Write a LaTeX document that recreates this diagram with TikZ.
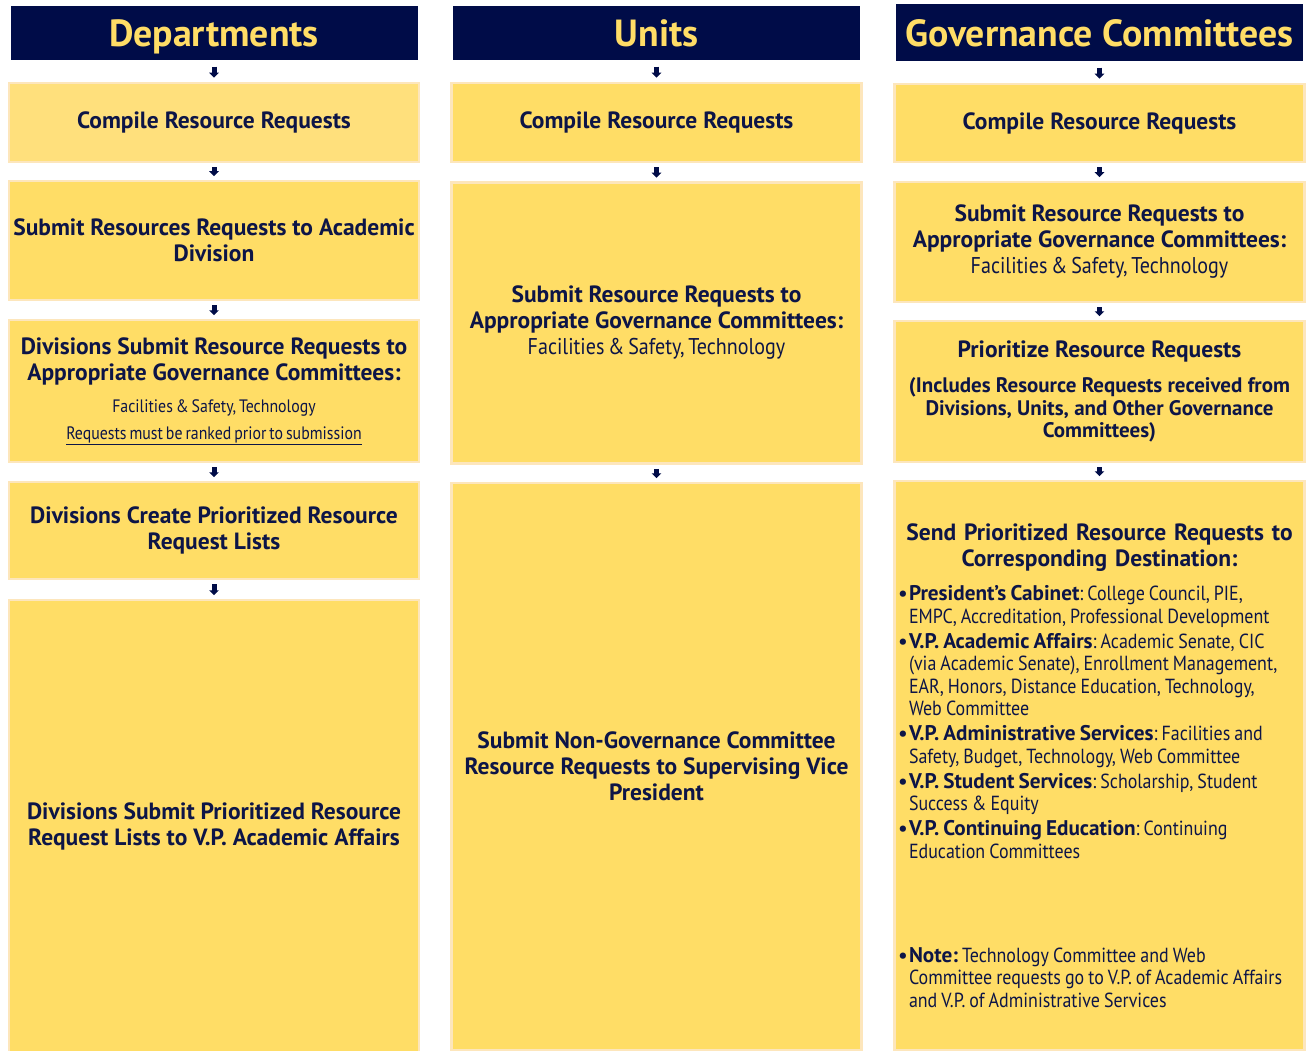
\documentclass[tikz,border=0pt]{standalone}
\usepackage{fontspec}
\setmainfont{PT Sans}
\newfontfamily\condfont[FakeStretch=0.88,WordSpace=0.7]{PT Sans}
\usetikzlibrary{arrows.meta}

\definecolor{navy}{HTML}{000C48}
\definecolor{boxfill}{HTML}{FFDD66}
\definecolor{boxpale}{HTML}{FFE07C}
\definecolor{boxline}{HTML}{FDE6BC}
\definecolor{ink}{HTML}{0D1547}

\newcommand{\headfont}{\fontsize{37.8}{40}\selectfont\bfseries}
\newcommand{\stepfont}{\fontsize{23.5}{26}\selectfont\bfseries}
\newcommand{\notefont}{\condfont\fontsize{22.8}{26}\selectfont\mdseries}
\newcommand{\smallnote}{\condfont\fontsize{18}{20}\selectfont\mdseries}
\newcommand{\listfont}{\condfont\fontsize{20.4}{22.5}\selectfont\mdseries}
\newcommand{\dest}[2]{\par\vspace{2.5pt}\noindent
  \llap{{\rmfamily\bfseries\textbullet}\hspace{1.5pt}}{\rmfamily\bfseries\fontsize{21.2}{22.5}\selectfont #1}#2}

\tikzstyle{header}=[fill=navy,text=boxfill,font=\headfont,minimum width=407pt,
  minimum height=54pt,inner sep=0pt,text height=31pt,text depth=3pt]
\tikzstyle{stepbox}=[draw=boxline,line width=2.5pt,fill=boxfill,text=ink,
  minimum width=410pt,align=center,inner sep=2pt,font=\stepfont]
\tikzstyle{flow}=[draw=navy,line width=5pt,-{Triangle[width=9.5pt,length=5pt]},
  shorten <=4pt,shorten >=3.5pt]

\begin{document}
\begin{tikzpicture}[x=1pt,y=-1pt]
    \useasboundingbox (0,0) rectangle (1315,1051);
    % column headers
    \node[header] (h1) at (214,33) {Departments};
    \node[header] (h2) at (656.5,33) {Units};
    \node[header,minimum height=57pt] (h3) at (1099.5,32.5) {Governance Committees};

    % Departments
    \node[stepbox,fill=boxpale,minimum height=79pt] (d1) at (214,122.5) {Compile Resource Requests};
    \node[stepbox,minimum height=119pt] (d2) at (214,240.5)
        {Submit Resources Requests to Academic\\Division};
    \node[stepbox,minimum height=142pt] (d3) at (214,391)
        {Divisions Submit Resource Requests to\\Appropriate Governance Committees:\\[6pt]
         {\smallnote Facilities \& Safety, Technology}\\[1pt]
         {\smallnote\underline{Requests must be ranked prior to submission}}};
    \node[stepbox,minimum height=97pt] (d4) at (214,530.5)
        {Divisions Create Prioritized Resource\\Request Lists};
    \node[stepbox,minimum height=452pt] (d5) at (214,826)
        {Divisions Submit Prioritized Resource\\Request Lists to V.P. Academic Affairs};

    % Units
    \node[stepbox,minimum height=79pt] (u1) at (656.5,122.5) {Compile Resource Requests};
    \node[stepbox,minimum height=281pt] (u2) at (656.5,323)
        {Submit Resource Requests to\\Appropriate Governance Committees:\\
         {\notefont Facilities \& Safety, Technology}};
    \node[stepbox,minimum height=567pt] (u3) at (656.5,766.5)
        {Submit Non-Governance Committee\\Resource Requests to Supervising Vice\\President};

    % Governance Committees
    \node[stepbox,minimum height=78pt] (g1) at (1099.5,123) {Compile Resource Requests};
    \node[stepbox,minimum height=120pt] (g2) at (1099.5,242)
        {Submit Resource Requests to\\Appropriate Governance Committees:\\
         {\notefont Facilities \& Safety, Technology}};
    \node[stepbox,minimum height=141pt] (g3) at (1099.5,391.5)
        {Prioritize Resource Requests\\[9pt]
         {\fontsize{21}{22.5}\selectfont (Includes Resource Requests received from}\\[-3.5pt]
         {\fontsize{21}{22.5}\selectfont Divisions, Units, and Other Governance}\\[-3.5pt]
         {\fontsize{21}{22.5}\selectfont Committees)}};
    \node[stepbox,minimum height=569pt,text width=410pt,inner sep=0pt,align=left] (g4) at (1099.5,765.5)
        {{\centering Send Prioritized Resource Requests to\\Corresponding Destination:\par}
         \vspace{9pt}\listfont\leftskip=14.5pt\hyphenpenalty=10000
         \frenchspacing\spaceskip=0.2em plus 0.1em\xspaceskip=0.2em plus 0.1em
         \dest{President's Cabinet}{: College Council, PIE,\newline EMPC, Accreditation, Professional Development}
         \dest{V.P. Academic Affairs}{: Academic Senate, CIC\newline (via Academic Senate), Enrollment Management,\newline
               EAR, Honors, Distance Education, Technology,\newline Web Committee}
         \dest{V.P. Administrative Services}{: Facilities and\newline Safety, Budget, Technology, Web Committee}
         \dest{V.P. Student Services}{: Scholarship, Student\newline Success \& Equity}
         \dest{V.P. Continuing Education}{: Continuing\newline Education Committees}
         \par\vspace{79pt}
         \dest{Note:}{ Technology Committee and Web\newline Committee requests go to V.P. of Academic Affairs\newline
               and V.P. of Administrative Services}\par};

    % arrows from the headers
    \foreach \src/\dst in {h1/d1,h2/u1,h3/g1}
        \path[flow,shorten <=6.5pt,shorten >=4pt] (\src) -- (\dst);
    % arrows between the steps
    \foreach \src/\dst in {d1/d2,d2/d3,d3/d4,d4/d5,u1/u2,u2/u3,g1/g2,g2/g3,g3/g4}
        \path[flow] (\src) -- (\dst);
\end{tikzpicture}
\end{document}
